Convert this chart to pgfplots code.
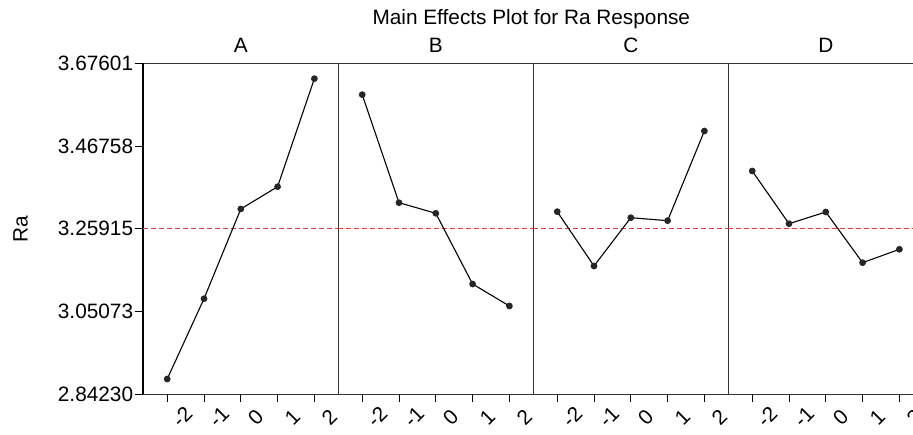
\documentclass[border=0pt]{standalone}
\usepackage{fontspec}
\setmainfont{Liberation Sans}
\usepackage{pgfplots}
\pgfplotsset{compat=1.18}
\definecolor{refred}{RGB}{228,52,52}
\begin{document}
\begin{tikzpicture}
\pgfplotsset{
  panel/.style={
    scale only axis, width=195pt, height=331pt,
    xmin=-2.65, xmax=2.65, ymin=2.84230, ymax=3.67601,
    anchor=south west, clip=false,
    xtick={-2,-1,0,1,2}, xticklabels={-2,-1,0,1,2},
    tick align=outside, tick pos=left,
    axis line style={line width=1pt, black!80},
    major tick style={line width=0.9pt, black},
    major tick length=8pt,
    font=\fontsize{20.8}{25}\selectfont,
    /pgf/number format/assume math mode=true,
    xticklabel style={rotate=45, anchor=center, inner sep=0pt, yshift=-21pt},
    title style={at={(0.5,1)}, anchor=base, yshift=5pt, inner sep=0pt},
  },
  series/.style={black, line width=1.1pt, mark=*, mark size=2.8pt,
    mark options={fill=black!85, draw=black!85}},
  refl/.style={refred, line width=0.9pt, dash pattern=on 5pt off 3pt, forget plot},
}
% Panel A
\begin{axis}[panel, at={(0pt,0pt)}, title={A},
  ytick={2.84230,3.05073,3.25915,3.46758,3.67601},
  yticklabels={2.84230,3.05073,3.25915,3.46758,3.67601},
  yticklabel style={inner sep=0pt, xshift=-2pt},
  ylabel={Ra},
  ylabel style={at={(axis description cs:-0.5913,0.5)}, anchor=south, inner sep=0pt},
  axis y line*=left, axis x line*=box,
  y axis line style={line width=1.6pt, black},
]
\addplot[refl] coordinates {(-2.65,3.25915) (2.65,3.25915)};
\addplot[series] coordinates {(-2,2.8808) (-1,3.0831) (0,3.3091) (1,3.3652) (2,3.6373)};
\end{axis}
% Panel B
\begin{axis}[panel, at={(195pt,0pt)}, title={B}, ytick=\empty]
\addplot[refl] coordinates {(-2.65,3.25915) (2.65,3.25915)};
\addplot[series] coordinates {(-2,3.5970) (-1,3.3249) (0,3.2982) (1,3.1201) (2,3.0647)};
\end{axis}
% Panel C
\begin{axis}[panel, at={(390pt,0pt)}, title={C}, ytick=\empty]
\addplot[refl] coordinates {(-2.65,3.25915) (2.65,3.25915)};
\addplot[series] coordinates {(-2,3.3023) (-1,3.1655) (0,3.2871) (1,3.2796) (2,3.5055)};
\end{axis}
% Panel D
\begin{axis}[panel, at={(585pt,0pt)}, title={D}, ytick=\empty]
\addplot[refl] coordinates {(-2.65,3.25915) (2.65,3.25915)};
\addplot[series] coordinates {(-2,3.4048) (-1,3.2720) (0,3.3015) (1,3.1738) (2,3.2075)};
\end{axis}
\node[anchor=base, inner sep=0pt, font=\fontsize{20.8}{25}\selectfont] at (388pt,369.3pt) {Main Effects Plot for Ra Response};
\pgfresetboundingbox
\path[use as bounding box] (-143.3pt,-39.7pt) rectangle (769.7pt,394.3pt);
\end{tikzpicture}
\end{document}
